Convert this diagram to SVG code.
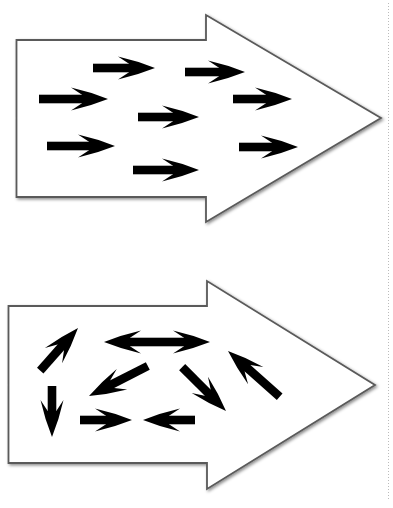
<svg xmlns="http://www.w3.org/2000/svg" xmlns:xlink="http://www.w3.org/1999/xlink" width="393" height="508" viewBox="0 0 393 508">
<style>
.big{fill:#fff;stroke:#5a5a5a;stroke-width:1.8;stroke-linejoin:miter;filter:url(#sh)}
.sa{fill:#000}
</style>
<defs>
<filter id="sh" x="-10%" y="-10%" width="120%" height="120%">
<feDropShadow dx="1.5" dy="1.5" stdDeviation="1.5" flood-color="#000" flood-opacity="0.45"/>
</filter>
<path id="h" d="M0,0 Q-18,-7.2 -37,-11.5 L-26,-4.3 L-26,4.3 L-37,11.5 Q-18,7.2 0,0 Z"/>
</defs>
<rect width="393" height="508" fill="#fff"/>
<line x1="388.5" y1="3" x2="388.5" y2="500" stroke="#bbb" stroke-width="1" stroke-dasharray="1 2"/>
<g id="arrow-ordered">
<path class="big" d="M16.5,40 L206,40 L206,15 L381,118 L206,222 L206,197 L16.5,197 Z"/>
<g class="sa">
<g transform="translate(155,68)"><rect x="-62" y="-4.3" width="37" height="8.6"/><use xlink:href="#h"/></g>
<g transform="translate(245,72)"><rect x="-60" y="-4.3" width="35" height="8.6"/><use xlink:href="#h"/></g>
<g transform="translate(108,99)"><rect x="-69" y="-4.3" width="44" height="8.6"/><use xlink:href="#h"/></g>
<g transform="translate(199,117)"><rect x="-61" y="-4.3" width="36" height="8.6"/><use xlink:href="#h"/></g>
<g transform="translate(292,99)"><rect x="-59" y="-4.3" width="34" height="8.6"/><use xlink:href="#h"/></g>
<g transform="translate(115,146)"><rect x="-68" y="-4.3" width="43" height="8.6"/><use xlink:href="#h"/></g>
<g transform="translate(298,147)"><rect x="-59" y="-4.3" width="34" height="8.6"/><use xlink:href="#h"/></g>
<g transform="translate(199,170)"><rect x="-66" y="-4.3" width="41" height="8.6"/><use xlink:href="#h"/></g>
</g>
</g>
<g id="arrow-random">
<path class="big" d="M8.5,306 L207,306 L207,281 L375,385 L207,489 L207,463 L8.5,463 Z"/>
<g class="sa">
<g transform="translate(78,328) rotate(-48.5)"><rect x="-57" y="-4.3" width="32" height="8.6"/><use xlink:href="#h"/></g>
<g transform="translate(210,342)"><rect x="-81" y="-4.3" width="56" height="8.6"/><use xlink:href="#h"/></g>
<g transform="translate(104,342) rotate(180)"><use xlink:href="#h"/></g>
<g transform="translate(89,396) rotate(153)"><rect x="-66" y="-4.3" width="41" height="8.6"/><use xlink:href="#h"/></g>
<g transform="translate(226,411) rotate(45)"><rect x="-62" y="-4.3" width="37" height="8.6"/><use xlink:href="#h"/></g>
<g transform="translate(228,351) rotate(-138.5)"><rect x="-69" y="-4.3" width="44" height="8.6"/><use xlink:href="#h"/></g>
<g transform="translate(52,437) rotate(90)"><rect x="-51" y="-4.3" width="26" height="8.6"/><use xlink:href="#h"/></g>
<g transform="translate(132,420)"><rect x="-52" y="-4.3" width="27" height="8.6"/><use xlink:href="#h"/></g>
<g transform="translate(143,420) rotate(180)"><rect x="-52" y="-4.3" width="27" height="8.6"/><use xlink:href="#h"/></g>
</g>
</g>
<g id="connectors"/>
</svg>
